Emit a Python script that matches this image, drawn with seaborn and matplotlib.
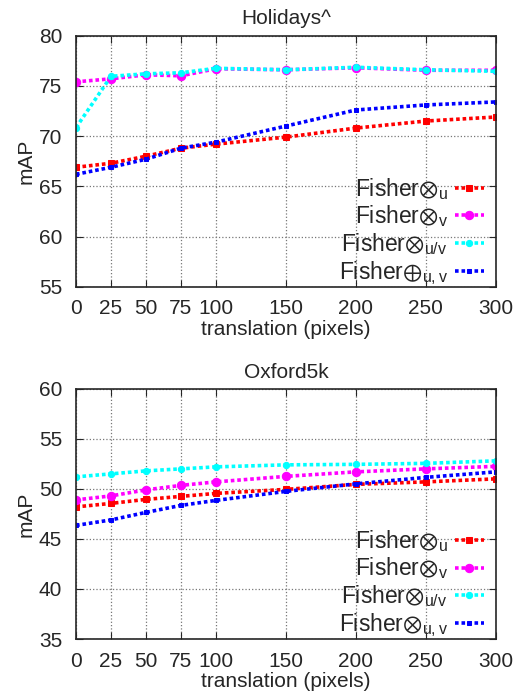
import numpy as np
import pandas as pd
import matplotlib
matplotlib.use('Agg')
import matplotlib.pyplot as plt
import seaborn as sns

# translation values (pixels)
translation = [0, 25, 50, 75, 100, 150, 200, 250, 300]

# Holidays^ mAP
hol_u = [66.9, 67.3, 68.0, 68.8, 69.2, 69.9, 70.8, 71.5, 71.9]
hol_v = [75.4, 75.7, 76.1, 76.0, 76.7, 76.6, 76.8, 76.55, 76.55]
hol_uv = [70.85, 75.95, 76.2, 76.3, 76.75, 76.6, 76.85, 76.6, 76.45]
hol_sum = [66.2, 66.9, 67.7, 68.8, 69.4, 71.0, 72.6, 73.1, 73.4]

# Oxford5k mAP
oxf_u = [48.2, 48.55, 48.95, 49.25, 49.55, 49.95, 50.45, 50.7, 51.0]
oxf_v = [48.9, 49.3, 49.9, 50.35, 50.7, 51.25, 51.7, 52.0, 52.25]
oxf_uv = [51.2, 51.5, 51.8, 52.0, 52.2, 52.4, 52.45, 52.55, 52.8]
oxf_uvp = [46.35, 46.9, 47.65, 48.35, 48.85, 49.75, 50.5, 51.15, 51.7]

hol_labels = [r'Fisher$\otimes_\mathregular{u}$', r'Fisher$\otimes_\mathregular{v}$',
              r'Fisher$\otimes_\mathregular{u/v}$', r'Fisher$\oplus_\mathregular{u,v}$']
oxf_labels = [r'Fisher$\otimes_\mathregular{u}$', r'Fisher$\otimes_\mathregular{v}$',
              r'Fisher$\otimes_\mathregular{u/v}$', r'Fisher$\otimes_\mathregular{u,v}$']

colors = ['#ff0000', '#ff00ff', '#00ffff', '#0000ff']
markers = ['s', 'o', 'o', 's']
msizes = [4, 6, 4.5, 3.5]

sns.set_style('ticks')
plt.rcParams['font.family'] = ['Liberation Sans', 'DejaVu Sans']
plt.rcParams['mathtext.fontset'] = 'custom'
plt.rcParams['mathtext.rm'] = 'Liberation Sans'
plt.rcParams['mathtext.it'] = 'Liberation Sans'
plt.rcParams['mathtext.fallback'] = 'stixsans'
plt.rcParams['font.size'] = 15

fig = plt.figure(figsize=(5.28, 6.98), dpi=100)
ax1 = fig.add_axes([0.144, 0.589, 0.795, 0.360])
ax2 = fig.add_axes([0.144, 0.0845, 0.795, 0.3585])


def draw(ax, series, labels, title, ylim):
    for vals, lab, c, m, ms in zip(series, labels, colors, markers, msizes):
        df = pd.DataFrame({'translation': translation, 'mAP': vals})
        sns.lineplot(data=df, x='translation', y='mAP', ax=ax, color=c,
                     marker=m, markersize=ms, markeredgecolor=c,
                     linestyle=(0, (1, 0.8)), linewidth=2.6, label=lab)
    ax.set_xlim(0, 300)
    ax.set_ylim(*ylim)
    ax.set_xticks(translation)
    ax.set_yticks(np.arange(ylim[0], ylim[1] + 1, 5))
    ax.tick_params(direction='in', top=True, right=True, length=5,
                   labelsize=15)
    ax.tick_params(axis='x', pad=9)
    ax.tick_params(axis='y', pad=10)
    ax.grid(True, color='#777777', linestyle=':', linewidth=0.9)
    for s in ax.spines.values():
        s.set_linewidth(1.2)
    ax.set_title(title, fontsize=15, pad=8)
    ax.set_xlabel('translation (pixels)', fontsize=15, labelpad=1)
    ax.set_ylabel('mAP', fontsize=15, labelpad=2)
    ax.legend(loc='lower right', bbox_to_anchor=(1.0, -0.045),
              markerfirst=False, frameon=False,
              fontsize=16.5, handlelength=1.3, handletextpad=0.3,
              labelspacing=0.08, borderaxespad=0.1)


draw(ax1, [hol_u, hol_v, hol_uv, hol_sum], hol_labels, 'Holidays^', (55, 80))
draw(ax2, [oxf_u, oxf_v, oxf_uv, oxf_uvp], oxf_labels, 'Oxford5k', (35, 60))

fig.savefig('out.png', dpi=100)
